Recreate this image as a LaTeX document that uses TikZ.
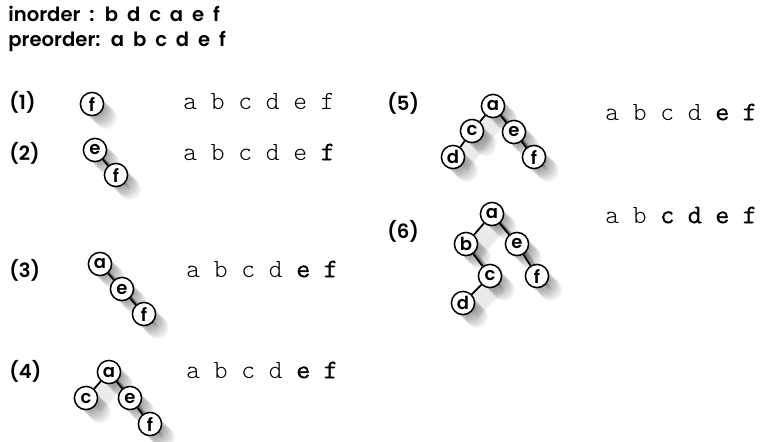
\documentclass[tikz,border=0pt]{standalone}
\usepackage{fontspec}
\newfontfamily\headfont{Poppins SemiBold}[WordSpace=1.9]
\setmonofont{Latin Modern Mono Light}
\newfontfamily\heavymono{Latin Modern Mono Light}[FakeBold=2.5,
  UprightFont=*, BoldFont=*]
\newcommand\hl[1]{{\heavymono\bfseries #1}}

\pgfdeclarelayer{shadow}
\pgfdeclarelayer{background}
\pgfsetlayers{shadow,background,main}

\begin{document}
\begin{tikzpicture}[x=0.5pt,y=-0.5pt]
  \tikzstyle{ball}=[circle,draw,line width=0.75pt,fill=white,inner sep=0pt,
  minimum size=11.6pt,font=\headfont\fontsize{9}{10}\selectfont]
  \tikzstyle{link}=[line width=0.9pt]
  \tikzstyle{tag}=[anchor=base west,inner sep=0pt,
  font=\headfont\fontsize{9.8}{11}\selectfont]
  \tikzstyle{seq}=[anchor=base west,inner sep=0pt,
  font=\ttfamily\fontsize{13.1}{14}\selectfont]
  \tikzstyle{shade}=[fill=black,draw=none,opacity=0.03]

  \useasboundingbox (0,0) rectangle (764,441);

  \node[tag] (inorder) at (8,21) {inorder : b d c a e f};
  \node[tag] (preorder) at (8,46) {preorder: a b c d e f};

  % step numbers
  \node[tag] (step1) at (9,109) {(1)};
  \node[tag] (step2) at (9,160) {(2)};
  \node[tag] (step3) at (9,277) {(3)};
  \node[tag] (step4) at (9,378) {(4)};
  \node[tag] (step5) at (387,110) {(5)};
  \node[tag] (step6) at (387,238) {(6)};

  % what is already placed
  \node[seq] (seq1) at (183,109) {a b c d e f};
  \node[seq] (seq2) at (183,160) {a b c d e \hl{f}};
  \node[seq] (seq3) at (186,277) {a b c d \hl{e f}};
  \node[seq] (seq4) at (186,378) {a b c d \hl{e f}};
  \node[seq] (seq5) at (605,120) {a b c d \hl{e f}};
  \node[seq] (seq6) at (605,223) {a b \hl{c d e f}};

  % (1)
  \node[ball] (f1) at (92,104) {f};
  % (2)
  \node[ball] (e2) at (95,150) {e};
  \node[ball] (f2) at (116,175) {f};
  % (3)
  \node[ball] (a3) at (100,264) {a};
  \node[ball] (e3) at (122,289) {e};
  \node[ball] (f3) at (144,314) {f};
  % (4)
  \node[ball] (a4) at (109,372) {a};
  \node[ball] (c4) at (86,398) {c};
  \node[ball] (e4) at (130,398) {e};
  \node[ball] (f4) at (150,424) {f};
  % (5)
  \node[ball] (a5) at (493,106) {a};
  \node[ball] (c5) at (472,131) {c};
  \node[ball] (e5) at (514,132) {e};
  \node[ball] (d5) at (453,157) {d};
  \node[ball] (f5) at (534,157) {f};
  % (6)
  \node[ball] (a6) at (492,214) {a};
  \node[ball] (b6) at (466,244) {b};
  \node[ball] (e6) at (517,244) {e};
  \node[ball] (c6) at (490,276) {c};
  \node[ball] (f6) at (537,276) {f};
  \node[ball] (d6) at (463,303) {d};

  % soft shadows under the balls
  \begin{pgfonlayer}{shadow}
    \foreach \n in {f1,e2,f2,a3,e3,f3,a4,c4,e4,f4,a5,c5,e5,d5,f5,a6,b6,e6,c6,f6,d6}
      \foreach \s in {1,...,14}
        \fill[shade] ([shift={(\s,\s)}]\n.center) circle (11);
  \end{pgfonlayer}

  % links and their shadows
  \foreach \u/\v in {e2/f2,a3/e3,e3/f3,a4/c4,a4/e4,e4/f4,a5/c5,a5/e5,c5/d5,e5/f5,
    a6/b6,a6/e6,b6/c6,c6/d6,e6/f6} {
    \begin{pgfonlayer}{shadow}
      \foreach \s in {1,...,14}
        \draw[shade,draw=black,line width=1.6pt]
          ([shift={(\s,\s)}]\u.center) -- ([shift={(\s,\s)}]\v.center);
    \end{pgfonlayer}
    \begin{pgfonlayer}{background}
      \draw[link] (\u) -- (\v);
    \end{pgfonlayer}
  }
\end{tikzpicture}
\end{document}
